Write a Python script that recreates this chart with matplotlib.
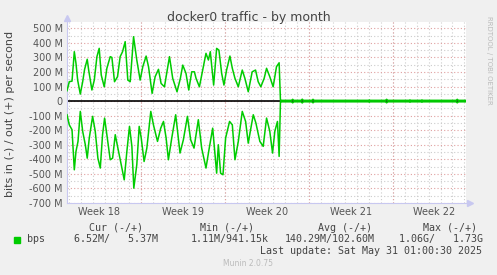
import numpy as np
import matplotlib
matplotlib.use("Agg")
import matplotlib.pyplot as plt

# day offsets from the left edge of the plot, values in Mbit/s
out_days = [0, 0.19, 0.42, 0.61, 0.75, 0.89, 1.11, 1.31, 1.47, 1.69, 1.81, 2.08, 2.28, 2.5,
            2.69, 2.86, 3.11, 3.33, 3.61, 3.75, 3.97, 4.22, 4.44, 4.64, 4.86, 5.08, 5.28,
            5.56, 5.83, 6.11, 6.33, 6.61, 6.81, 7.11, 7.36, 7.64, 7.86, 8.14, 8.56, 8.83,
            9.19, 9.47, 9.67, 9.94, 10.17, 10.42, 10.64, 10.78, 11.06, 11.61, 11.81, 11.97,
            12.25, 12.5, 12.69, 12.92, 13.11, 13.33, 13.61, 13.81, 14.03, 14.31, 14.64,
            14.86, 15.14, 15.47, 15.75, 15.97, 16.19, 16.47, 16.67, 16.94, 17.22, 17.5,
            17.72, 17.83]
out_vals = [71, 133, 137, 339, 259, 144, 48, 133, 218, 287, 213, 76, 144, 305,
            362, 179, 98, 225, 305, 300, 133, 167, 305, 339, 408, 144, 133,
            442, 282, 144, 236, 309, 236, 53, 167, 218, 121, 98, 305, 156,
            64, 156, 247, 190, 76, 201, 201, 156, 98, 328, 282, 339,
            110, 362, 350, 190, 110, 213, 309, 225, 156, 98, 213,
            156, 64, 201, 213, 133, 98, 156, 225, 167, 98, 236,
            263, 5]

in_days = [0, 0.19, 0.42, 0.61, 0.75, 0.92, 1.11, 1.31, 1.53, 1.69, 1.86, 2.14, 2.36, 2.58,
           2.78, 2.97, 3.14, 3.33, 3.61, 3.81, 4.03, 4.25, 4.53, 4.78, 5.0, 5.22, 5.42,
           5.58, 5.83, 6.03, 6.2, 6.44, 6.67, 7.0, 7.22, 7.56, 7.83, 8.06, 8.28, 8.47,
           8.75, 9.08, 9.44, 9.72, 10.06, 10.33, 10.61, 10.97, 11.25, 11.61, 11.86, 12.17,
           12.5, 12.64, 12.83, 13.03, 13.25, 13.58, 13.81, 14.03, 14.31, 14.64, 14.92,
           15.14, 15.36, 15.56, 15.78, 16.11, 16.39, 16.67, 16.94, 17.17, 17.36, 17.58,
           17.72, 17.83]
in_vals = [94, 163, 197, 472, 346, 277, 71, 208, 300, 392, 254, 105, 208, 392,
           460, 231, 117, 231, 403, 392, 231, 323, 437, 541, 346, 174, 311,
           598, 437, 174, 254, 415, 323, 71, 163, 277, 186, 140, 254, 403,
           254, 94, 357, 266, 105, 266, 323, 128, 323, 460, 334, 186,
           495, 300, 495, 506, 254, 140, 163, 403, 277, 71, 140,
           289, 186, 94, 151, 277, 311, 117, 208, 357, 208, 140,
           380, 5]

# idle tail after the interface went quiet
tail_days = [17.9, 18.5, 18.75, 18.85, 18.95, 19.55, 19.65, 19.75, 20.45, 20.55, 20.65,
             25.2, 25.25, 25.3, 26.6, 26.7, 26.8, 28.6, 28.65, 28.7, 29.6, 29.65, 29.7,
             32.5, 32.6, 32.7, 33.33]
tail_out = [5, 5, 5, 12, 5, 5, 13, 5, 5, 12, 5,
            5, 8, 5, 5, 12, 5, 5, 8, 5, 5, 8, 5,
            5, 12, 5, 5]
tail_in = [5, 5, 5, 12, 5, 5, 13, 5, 5, 12, 5,
           5, 8, 5, 5, 12, 5, 5, 8, 5, 5, 8, 5,
           5, 12, 5, 5]

week_labels = ["Week 18", "Week 19", "Week 20", "Week 21", "Week 22"]
week_starts = [6.2, 13.2, 20.2, 27.2]
y_ticks = [500, 400, 300, 200, 100, 0, -100, -200, -300, -400, -500, -600, -700]

green = "#00CC00"
fig = plt.figure(figsize=(4.97, 2.75), dpi=100, facecolor="#F0F0F0")
ax = fig.add_axes([67 / 497, 1 - 203 / 275, 399 / 497, 181 / 275])
ax.set_facecolor("white")

x_end = 33.33
ax.set_xlim(0, x_end)
ax.set_ylim(-700, 543)

# grid: minor gray, major red
for d in np.arange(0.2, x_end, 1.0):
    ax.axvline(d, color="#CCCCCC", ls=(0, (1, 2)), lw=0.8, zorder=1)
for d in week_starts:
    ax.axvline(d, color="#E0A0A0", ls=(0, (1, 2)), lw=0.8, zorder=1)
for v in np.arange(-650, 543, 100):
    ax.axhline(v, color="#CCCCCC", ls=(0, (1, 2)), lw=0.8, zorder=1)
for v in y_ticks:
    ax.axhline(v, color="#E0A0A0", ls=(0, (1, 2)), lw=0.8, zorder=1)

ax.axhline(0, color="black", lw=1.2, zorder=2)

xo = np.array(out_days + tail_days)
yo = np.array(out_vals + tail_out)
xi = np.array(in_days + tail_days)
yi = -np.array(in_vals + tail_in)
ax.plot(xo, yo, color=green, lw=1.1, zorder=3)
ax.plot(xi, yi, color=green, lw=1.1, zorder=3)

ax.set_yticks(y_ticks)
ax.set_yticklabels([("%d M" % v) if v != 0 else "0" for v in y_ticks])
ax.set_xticks([d - 3.5 for d in week_starts] + [week_starts[-1] + 3.5])
ax.set_xticklabels(week_labels)
ax.tick_params(axis="both", colors="#555555", labelsize=7, length=0, pad=3)
for lab in ax.get_xticklabels() + ax.get_yticklabels():
    lab.set_color("#555555")

for s in ["top", "right"]:
    ax.spines[s].set_visible(False)
for s in ["left", "bottom"]:
    ax.spines[s].set_color("#C8C8F0")
    ax.spines[s].set_linewidth(0.8)
ax.plot([0], [1.02], marker="^", ms=4, color="#C8C8F0", transform=ax.transAxes, clip_on=False)
ax.plot([1.01], [0], marker=">", ms=4, color="#C8C8F0", transform=ax.transAxes, clip_on=False)

fig.text(249 / 497, 1 - 18 / 275, "docker0 traffic - by month", ha="center", va="center",
         fontsize=9, color="#444444")
fig.text(10 / 497, 1 - 114 / 275, "bits in (-) / out (+) per second", rotation=90,
         ha="center", va="center", fontsize=8, color="#444444")
fig.text(489 / 497, 1 - 60 / 275, "RRDTOOL / TOBI OETIKER", rotation=270,
         ha="center", va="center", fontsize=5, color="#BBBBBB")

mono = "DejaVu Sans Mono"
lc = "#444444"
fs = 7.2
fig.text(116 / 497, 1 - 228 / 275, "Cur (-/+)", ha="center", va="center", family=mono, fontsize=fs, color=lc)
fig.text(227 / 497, 1 - 228 / 275, "Min (-/+)", ha="center", va="center", family=mono, fontsize=fs, color=lc)
fig.text(345 / 497, 1 - 228 / 275, "Avg (-/+)", ha="center", va="center", family=mono, fontsize=fs, color=lc)
fig.text(450 / 497, 1 - 228 / 275, "Max (-/+)", ha="center", va="center", family=mono, fontsize=fs, color=lc)

fig.patches.append(plt.Rectangle((14 / 497, 1 - 243 / 275), 6 / 497, 6 / 275,
                                 transform=fig.transFigure, color=green))
fig.text(27 / 497, 1 - 239 / 275, "bps", ha="left", va="center", family=mono, fontsize=fs, color=lc)
fig.text(158 / 497, 1 - 239 / 275, "6.52M/   5.37M", ha="right", va="center", family=mono, fontsize=fs, color=lc)
fig.text(269 / 497, 1 - 239 / 275, "1.11M/941.15k", ha="right", va="center", family=mono, fontsize=fs, color=lc)
fig.text(375 / 497, 1 - 239 / 275, "140.29M/102.60M", ha="right", va="center", family=mono, fontsize=fs, color=lc)
fig.text(483 / 497, 1 - 239 / 275, "1.06G/   1.73G", ha="right", va="center", family=mono, fontsize=fs, color=lc)
fig.text(482 / 497, 1 - 251 / 275, "Last update: Sat May 31 01:00:30 2025", ha="right", va="center",
         family=mono, fontsize=fs, color=lc)
fig.text(248 / 497, 1 - 264 / 275, "Munin 2.0.75", ha="center", va="center", fontsize=5.5, color="#BBBBBB")

fig.savefig("out.png", dpi=100, facecolor=fig.get_facecolor())
